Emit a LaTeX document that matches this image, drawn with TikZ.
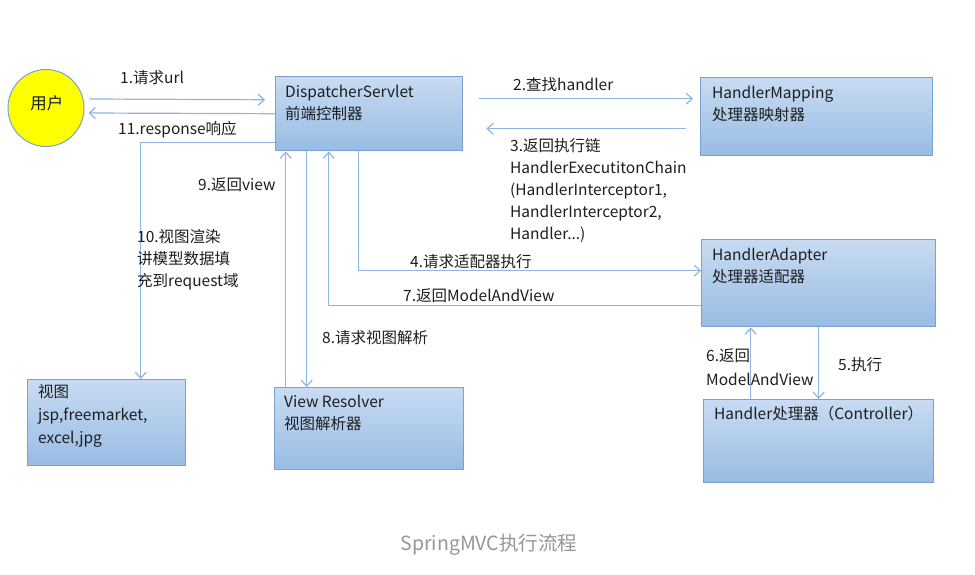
\documentclass[tikz,border=0pt]{standalone}
\usepackage{fontspec}
\setmainfont{Noto Sans CJK SC}
\usepackage{xcolor}
\usepackage{tikz}
\definecolor{flowblue}{RGB}{143, 181, 227}
\definecolor{boxtop}{RGB}{200, 219, 242}
\definecolor{boxbot}{RGB}{152, 188, 228}
\definecolor{boxline}{RGB}{122, 160, 208}
\definecolor{useryellow}{RGB}{255, 255, 0}
\definecolor{txtdark}{RGB}{30, 30, 30}
\definecolor{captiongray}{RGB}{150, 150, 150}
\usetikzlibrary{shapes.geometric, arrows.meta, positioning, calc}

\tikzset{
    every node/.style={inner sep=0pt, text=txtdark, font=\fontsize{15.5}{22}\selectfont},
    stage/.style 2 args={draw=boxline, line width=1.4pt, top color=boxtop, bottom color=boxbot,
          minimum width=#1, minimum height=#2, anchor=north west},
    flow/.style={draw=flowblue, line width=1.2pt, -{Straight Barb[length=6pt, width=11pt]}}
}

\begin{document}
\begin{tikzpicture}[x=1pt, y=-1pt]
    \fill[white] (0,0) rectangle (975,574);
    \useasboundingbox (0,0) rectangle (975,574);

    \node[ellipse, draw=boxline, line width=1pt, fill=useryellow,
          minimum width=76pt, minimum height=77pt] (user) at (46,108) {};
    \node[font=\fontsize{16.5}{20}\selectfont] (usertxt) at (47,103) {用户};

    \node[stage={187pt}{74pt}] (disp) at (275,76) {};
    \node[stage={232pt}{78pt}] (hm) at (700,77) {};
    \node[stage={234pt}{87pt}] (ha) at (701,239) {};
    \node[stage={230pt}{83pt}] (ctrl) at (703,399) {};
    \node[stage={158pt}{86pt}] (view) at (27,379) {};
    \node[stage={189pt}{82pt}] (vr) at (274,387) {};

    \node[anchor=north west, align=left] (disptxt) at (285,85) {DispatcherServlet\\前端控制器};
    \node[anchor=north west, align=left] (hmtxt) at (712,86) {HandlerMapping\\处理器映射器};
    \node[anchor=north west, align=left] (hatxt) at (712,248) {HandlerAdapter\\处理器适配器};
    \node[anchor=west] (ctrltxt) at (714,414) {Handler处理器（Controller）};
    \node[anchor=north west, align=left, font=\fontsize{15.5}{23}\selectfont] (viewtxt) at (38,384)
        {视图\\jsp,freemarket,\\excel,jpg};
    \node[anchor=north west, align=left] (vrtxt) at (284,395) {View Resolver\\视图解析器};

    \draw[flow] ([xshift=5pt,yshift=9pt]user.east) -- ([xshift=-10pt,yshift=14pt]disp.west);
    \draw[flow] (disp.west) -- ([xshift=4pt,yshift=-5pt]user.east);
    \draw[flow] ([yshift=-29pt]disp.west) -| ([xshift=34pt]view.north);
    \draw[flow] ([xshift=16pt,yshift=15pt]disp.east) -- ([xshift=-7pt,yshift=18pt]hm.west);
    \draw[flow] ([xshift=-14pt,yshift=-12pt]hm.west) -- ([xshift=23pt,yshift=-15pt]disp.east);
    \draw[flow] ([xshift=-10.5pt]disp.south) |- ([yshift=12.5pt]ha.west);
    \draw[flow] ([yshift=-22.5pt]ha.west) -| ([xshift=-40.5pt]disp.south);
    \draw[flow] ([xshift=-62.5pt]disp.south) -- ([xshift=-62.5pt]vr.north);
    \draw[flow] ([xshift=-83.5pt]vr.north) -- ([xshift=-83.5pt]disp.south);
    \draw[flow] (ha.south) -- (ctrl.north);
    \draw[flow] ([xshift=-68pt]ctrl.north) -- ([xshift=-68pt]ha.south);

    \node[anchor=west] (lbl1) at (120,78) {1.请求url};
    \node[anchor=west] (lbl11) at (118,130) {11.response响应};
    \node[anchor=west] (lbl2) at (513,85) {2.查找handler};
    \node[anchor=north west, align=left] (lbl3) at (510,138)
        {3.返回执行链\\HandlerExecutitonChain\\(HandlerInterceptor1,\\HandlerInterceptor2,\\Handler...)};
    \node[anchor=west] (lbl4) at (410,262) {4.请求适配器执行};
    \node[anchor=west] (lbl7) at (403,296) {7.返回ModelAndView};
    \node[anchor=west] (lbl8) at (322,338) {8.请求视图解析};
    \node[anchor=west] (lbl9) at (198,185) {9.返回view};
    \node[anchor=north west, align=left] (lbl10) at (137,229) {10.视图渲染\\讲模型数据填\\充到request域};
    \node[anchor=north west, align=left, font=\fontsize{15.5}{24}\selectfont] (lbl6) at (706,349)
        {6.返回\\ModelAndView};
    \node[anchor=west] (lbl5) at (838,365) {5.执行};

    \node[text=captiongray, font=\fontsize{19.5}{22}\selectfont] (caption) at (489,545) {SpringMVC执行流程};
\end{tikzpicture}
\end{document}
